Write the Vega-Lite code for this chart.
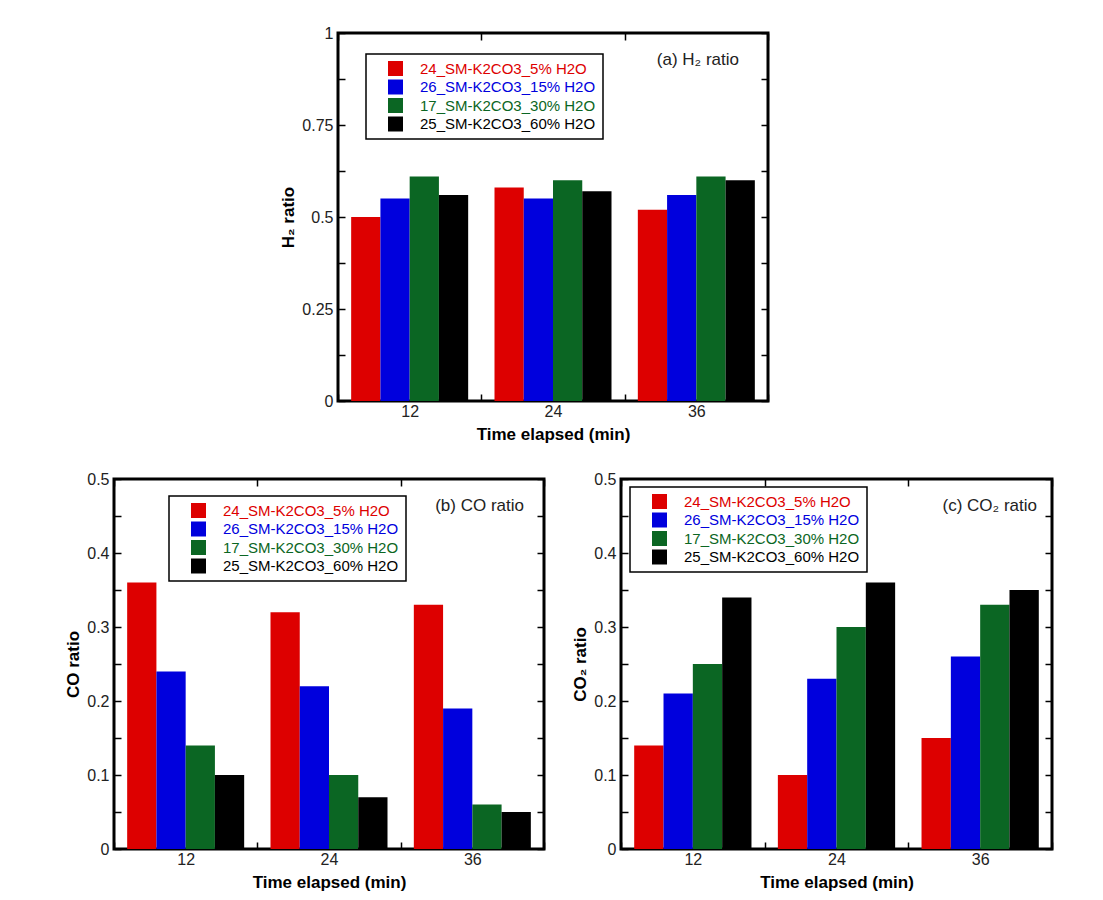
{
  "$schema": "https://vega.github.io/schema/vega-lite/v6.json",
  "padding": {"left": 63, "top": 23, "right": 5, "bottom": 5},
  "background": "white",
  "config": {
    "font": "Liberation Sans",
    "view": {"stroke": "black", "strokeWidth": 3},
    "axis": {"domain": false, "grid": false, "tickColor": "black", "tickWidth": 1.5, "tickSize": -7, "labelFontSize": 16, "labelColor": "#222", "titleFontSize": 17, "titleFontWeight": "bold", "titleColor": "black", "labelFont": "Liberation Sans", "titleFont": "Liberation Sans"},
    "axisX": {"labelPadding": 9, "titlePadding": 7},
    "axisY": {"labelPadding": 12, "titlePadding": 4},
    "legend": {"orient": "none", "title": null, "strokeColor": "black", "strokeWidth": 1.5, "fillColor": "white", "padding": 7, "symbolType": "square", "symbolSize": 225, "symbolStrokeWidth": 0, "symbolOffset": 15, "labelOffset": 17, "labelFontSize": 15, "labelLimit": 400, "labelFont": "Liberation Sans", "rowPadding": 2.5,
      "labelColor": {"expr": "indexof(datum.value, '_5%') >= 0 ? '#dd0000' : indexof(datum.value, '_15%') >= 0 ? '#0000dd' : indexof(datum.value, '_30%') >= 0 ? '#0b6623' : '#000000'"}},
    "title": {"fontSize": 17, "fontWeight": "normal", "font": "Liberation Sans", "color": "#222"}
  },
  "datasets": {
    "bars": [
      {"panel": "a", "time": "12", "series": "24_SM-K2CO3_5% H2O", "value": 0.50},
      {"panel": "a", "time": "12", "series": "26_SM-K2CO3_15% H2O", "value": 0.55},
      {"panel": "a", "time": "12", "series": "17_SM-K2CO3_30% H2O", "value": 0.61},
      {"panel": "a", "time": "12", "series": "25_SM-K2CO3_60% H2O", "value": 0.56},
      {"panel": "a", "time": "24", "series": "24_SM-K2CO3_5% H2O", "value": 0.58},
      {"panel": "a", "time": "24", "series": "26_SM-K2CO3_15% H2O", "value": 0.55},
      {"panel": "a", "time": "24", "series": "17_SM-K2CO3_30% H2O", "value": 0.60},
      {"panel": "a", "time": "24", "series": "25_SM-K2CO3_60% H2O", "value": 0.57},
      {"panel": "a", "time": "36", "series": "24_SM-K2CO3_5% H2O", "value": 0.52},
      {"panel": "a", "time": "36", "series": "26_SM-K2CO3_15% H2O", "value": 0.56},
      {"panel": "a", "time": "36", "series": "17_SM-K2CO3_30% H2O", "value": 0.61},
      {"panel": "a", "time": "36", "series": "25_SM-K2CO3_60% H2O", "value": 0.60},
      {"panel": "b", "time": "12", "series": "24_SM-K2CO3_5% H2O", "value": 0.36},
      {"panel": "b", "time": "12", "series": "26_SM-K2CO3_15% H2O", "value": 0.24},
      {"panel": "b", "time": "12", "series": "17_SM-K2CO3_30% H2O", "value": 0.14},
      {"panel": "b", "time": "12", "series": "25_SM-K2CO3_60% H2O", "value": 0.10},
      {"panel": "b", "time": "24", "series": "24_SM-K2CO3_5% H2O", "value": 0.32},
      {"panel": "b", "time": "24", "series": "26_SM-K2CO3_15% H2O", "value": 0.22},
      {"panel": "b", "time": "24", "series": "17_SM-K2CO3_30% H2O", "value": 0.10},
      {"panel": "b", "time": "24", "series": "25_SM-K2CO3_60% H2O", "value": 0.07},
      {"panel": "b", "time": "36", "series": "24_SM-K2CO3_5% H2O", "value": 0.33},
      {"panel": "b", "time": "36", "series": "26_SM-K2CO3_15% H2O", "value": 0.19},
      {"panel": "b", "time": "36", "series": "17_SM-K2CO3_30% H2O", "value": 0.06},
      {"panel": "b", "time": "36", "series": "25_SM-K2CO3_60% H2O", "value": 0.05},
      {"panel": "c", "time": "12", "series": "24_SM-K2CO3_5% H2O", "value": 0.14},
      {"panel": "c", "time": "12", "series": "26_SM-K2CO3_15% H2O", "value": 0.21},
      {"panel": "c", "time": "12", "series": "17_SM-K2CO3_30% H2O", "value": 0.25},
      {"panel": "c", "time": "12", "series": "25_SM-K2CO3_60% H2O", "value": 0.34},
      {"panel": "c", "time": "24", "series": "24_SM-K2CO3_5% H2O", "value": 0.10},
      {"panel": "c", "time": "24", "series": "26_SM-K2CO3_15% H2O", "value": 0.23},
      {"panel": "c", "time": "24", "series": "17_SM-K2CO3_30% H2O", "value": 0.30},
      {"panel": "c", "time": "24", "series": "25_SM-K2CO3_60% H2O", "value": 0.36},
      {"panel": "c", "time": "36", "series": "24_SM-K2CO3_5% H2O", "value": 0.15},
      {"panel": "c", "time": "36", "series": "26_SM-K2CO3_15% H2O", "value": 0.26},
      {"panel": "c", "time": "36", "series": "17_SM-K2CO3_30% H2O", "value": 0.33},
      {"panel": "c", "time": "36", "series": "25_SM-K2CO3_60% H2O", "value": 0.35}
    ]
  },
  "resolve": {"scale": {"x": "independent", "y": "independent", "color": "independent", "xOffset": "independent"}},
  "spacing": 25,
  "vconcat": [
    {
      "spacing": 20,
      "resolve": {"scale": {"x": "independent", "y": "independent", "color": "independent", "xOffset": "independent"}},
      "hconcat": [
        {
          "width": 144, "height": 10,
          "view": {"stroke": null},
          "data": {"values": [{"k": 1}]},
          "mark": {"type": "point", "opacity": 0},
          "encoding": {}
        },
        {
          "width": 430, "height": 368,
          "title": {"text": "(a) H₂ ratio", "anchor": "end", "frame": "group", "offset": -44, "dx": -29},
          "data": {"name": "bars"},
          "transform": [{"filter": "datum.panel == 'a'"}],
          "resolve": {"axis": {"x": "independent", "y": "independent"}},
          "layer": [
            {
              "mark": "bar",
              "encoding": {
                "x": {"field": "time", "type": "nominal", "sort": ["12", "24", "36"], "scale": {"paddingInner": 0, "paddingOuter": 0}, "axis": {"orient": "bottom", "tickBand": "extent", "labelAngle": 0, "title": "Time elapsed (min)"}},
                "xOffset": {"field": "series", "type": "nominal", "scale": {"domain": ["24_SM-K2CO3_5% H2O", "26_SM-K2CO3_15% H2O", "17_SM-K2CO3_30% H2O", "25_SM-K2CO3_60% H2O"], "paddingOuter": 0.45, "paddingInner": 0}},
                "y": {"field": "value", "type": "quantitative", "scale": {"domain": [0, 1], "nice": false}, "axis": {"orient": "left", "values": [0, 0.125, 0.25, 0.375, 0.5, 0.625, 0.75, 0.875, 1], "labelExpr": "abs(datum.value*4 - round(datum.value*4)) < 0.001 ? format(datum.value, '~g') : ''", "title": "H₂ ratio"}},
                "color": {"field": "series", "type": "nominal", "scale": {"domain": ["24_SM-K2CO3_5% H2O", "26_SM-K2CO3_15% H2O", "17_SM-K2CO3_30% H2O", "25_SM-K2CO3_60% H2O"], "range": ["#dd0000", "#0000dd", "#0b6623", "#000000"]}, "legend": {"legendX": 28, "legendY": 21}}
              }
            },
            {
              "mark": {"type": "bar", "opacity": 0},
              "encoding": {
                "x": {"field": "time", "type": "nominal", "sort": ["12", "24", "36"], "scale": {"paddingInner": 0, "paddingOuter": 0}, "axis": {"orient": "top", "tickBand": "extent", "labels": false, "title": null}},
                "xOffset": {"field": "series", "type": "nominal", "scale": {"domain": ["24_SM-K2CO3_5% H2O", "26_SM-K2CO3_15% H2O", "17_SM-K2CO3_30% H2O", "25_SM-K2CO3_60% H2O"], "paddingOuter": 0.45, "paddingInner": 0}},
                "y": {"field": "value", "type": "quantitative", "scale": {"domain": [0, 1], "nice": false}, "axis": {"orient": "right", "values": [0, 0.125, 0.25, 0.375, 0.5, 0.625, 0.75, 0.875, 1], "labels": false, "title": null}}
              }
            }
          ]
        }
      ]
    },
    {
      "spacing": 23,
      "resolve": {"scale": {"x": "independent", "y": "independent", "color": "independent", "xOffset": "independent"}},
      "hconcat": [
        {
          "width": 430, "height": 370,
          "title": {"text": "(b) CO ratio", "anchor": "end", "frame": "group", "offset": -44, "dx": -20},
          "data": {"name": "bars"},
          "transform": [{"filter": "datum.panel == 'b'"}],
          "resolve": {"axis": {"x": "independent", "y": "independent"}},
          "layer": [
            {
              "mark": "bar",
              "encoding": {
                "x": {"field": "time", "type": "nominal", "sort": ["12", "24", "36"], "scale": {"paddingInner": 0, "paddingOuter": 0}, "axis": {"orient": "bottom", "tickBand": "extent", "labelAngle": 0, "title": "Time elapsed (min)"}},
                "xOffset": {"field": "series", "type": "nominal", "scale": {"domain": ["24_SM-K2CO3_5% H2O", "26_SM-K2CO3_15% H2O", "17_SM-K2CO3_30% H2O", "25_SM-K2CO3_60% H2O"], "paddingOuter": 0.45, "paddingInner": 0}},
                "y": {"field": "value", "type": "quantitative", "scale": {"domain": [0, 0.5], "nice": false}, "axis": {"orient": "left", "values": [0, 0.05, 0.1, 0.15, 0.2, 0.25, 0.3, 0.35, 0.4, 0.45, 0.5], "labelExpr": "abs(datum.value*10 - round(datum.value*10)) < 0.001 ? format(datum.value, '~g') : ''", "title": "CO ratio"}},
                "color": {"field": "series", "type": "nominal", "scale": {"domain": ["24_SM-K2CO3_5% H2O", "26_SM-K2CO3_15% H2O", "17_SM-K2CO3_30% H2O", "25_SM-K2CO3_60% H2O"], "range": ["#dd0000", "#0000dd", "#0b6623", "#000000"]}, "legend": {"legendX": 55, "legendY": 17}}
              }
            },
            {
              "mark": {"type": "bar", "opacity": 0},
              "encoding": {
                "x": {"field": "time", "type": "nominal", "sort": ["12", "24", "36"], "scale": {"paddingInner": 0, "paddingOuter": 0}, "axis": {"orient": "top", "tickBand": "extent", "labels": false, "title": null}},
                "xOffset": {"field": "series", "type": "nominal", "scale": {"domain": ["24_SM-K2CO3_5% H2O", "26_SM-K2CO3_15% H2O", "17_SM-K2CO3_30% H2O", "25_SM-K2CO3_60% H2O"], "paddingOuter": 0.45, "paddingInner": 0}},
                "y": {"field": "value", "type": "quantitative", "scale": {"domain": [0, 0.5], "nice": false}, "axis": {"orient": "right", "values": [0, 0.05, 0.1, 0.15, 0.2, 0.25, 0.3, 0.35, 0.4, 0.45, 0.5], "labels": false, "title": null}}
              }
            }
          ]
        },
        {
          "width": 431, "height": 370,
          "title": {"text": "(c) CO₂ ratio", "anchor": "end", "frame": "group", "offset": -44, "dx": -15},
          "data": {"name": "bars"},
          "transform": [{"filter": "datum.panel == 'c'"}],
          "resolve": {"axis": {"x": "independent", "y": "independent"}},
          "layer": [
            {
              "mark": "bar",
              "encoding": {
                "x": {"field": "time", "type": "nominal", "sort": ["12", "24", "36"], "scale": {"paddingInner": 0, "paddingOuter": 0}, "axis": {"orient": "bottom", "tickBand": "extent", "labelAngle": 0, "title": "Time elapsed (min)"}},
                "xOffset": {"field": "series", "type": "nominal", "scale": {"domain": ["24_SM-K2CO3_5% H2O", "26_SM-K2CO3_15% H2O", "17_SM-K2CO3_30% H2O", "25_SM-K2CO3_60% H2O"], "paddingOuter": 0.45, "paddingInner": 0}},
                "y": {"field": "value", "type": "quantitative", "scale": {"domain": [0, 0.5], "nice": false}, "axis": {"orient": "left", "values": [0, 0.05, 0.1, 0.15, 0.2, 0.25, 0.3, 0.35, 0.4, 0.45, 0.5], "labelExpr": "abs(datum.value*10 - round(datum.value*10)) < 0.001 ? format(datum.value, '~g') : ''", "title": "CO₂ ratio"}},
                "color": {"field": "series", "type": "nominal", "scale": {"domain": ["24_SM-K2CO3_5% H2O", "26_SM-K2CO3_15% H2O", "17_SM-K2CO3_30% H2O", "25_SM-K2CO3_60% H2O"], "range": ["#dd0000", "#0000dd", "#0b6623", "#000000"]}, "legend": {"legendX": 9, "legendY": 8}}
              }
            },
            {
              "mark": {"type": "bar", "opacity": 0},
              "encoding": {
                "x": {"field": "time", "type": "nominal", "sort": ["12", "24", "36"], "scale": {"paddingInner": 0, "paddingOuter": 0}, "axis": {"orient": "top", "tickBand": "extent", "labels": false, "title": null}},
                "xOffset": {"field": "series", "type": "nominal", "scale": {"domain": ["24_SM-K2CO3_5% H2O", "26_SM-K2CO3_15% H2O", "17_SM-K2CO3_30% H2O", "25_SM-K2CO3_60% H2O"], "paddingOuter": 0.45, "paddingInner": 0}},
                "y": {"field": "value", "type": "quantitative", "scale": {"domain": [0, 0.5], "nice": false}, "axis": {"orient": "right", "values": [0, 0.05, 0.1, 0.15, 0.2, 0.25, 0.3, 0.35, 0.4, 0.45, 0.5], "labels": false, "title": null}}
              }
            }
          ]
        }
      ]
    }
  ]
}
